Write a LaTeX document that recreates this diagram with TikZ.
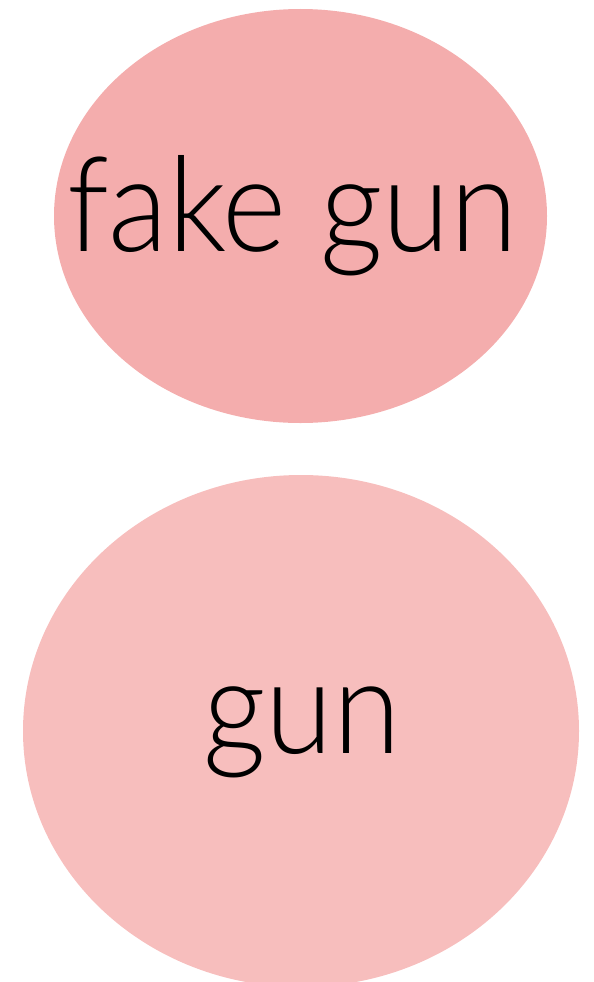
\documentclass[tikz,border=0pt]{standalone}
\usepackage{fontspec}
\usepackage{graphicx}
\setmainfont{Lato}[UprightFont=* Light]
\definecolor{topfill}{HTML}{F4ADAD}
\definecolor{botfill}{HTML}{F7BEBD}
\newcommand{\narrowtext}[1]{\scalebox{0.93}[1]{#1}}
\begin{document}
\begin{tikzpicture}[x=1pt,y=-1pt,
  blob/.style={draw=none},
  lbl/.style={anchor=base,inner sep=0pt,font=\fontsize{132}{140}\selectfont}]
\useasboundingbox (0,0) rectangle (594,982);
\fill[topfill,blob] (300.5,216) ellipse [x radius=246.5, y radius=207];
\fill[botfill,blob] (301,731) ellipse [x radius=278, y radius=256];
\node[lbl] (fake) at (292.5,251.7) {\narrowtext{fake gun}};
\node[lbl] (gun) at (302,753.3) {\narrowtext{gun}};
\end{tikzpicture}
\end{document}
